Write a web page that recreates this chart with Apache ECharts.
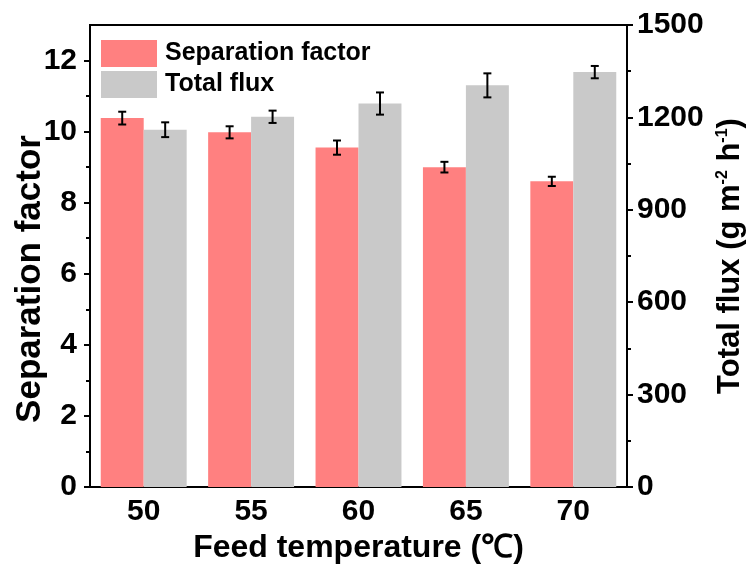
<!DOCTYPE html>
<html>
<head>
<meta charset="utf-8">
<script src="https://cdn.jsdelivr.net/npm/echarts@6/dist/echarts.min.js"></script>
<style>html,body{margin:0;padding:0;background:#fff;}#c{width:754px;height:567px;}</style>
</head>
<body>
<div id="c"></div>
<script>
const categories = ['50', '55', '60', '65', '70'];
const sepFactor = [10.38, 9.98, 9.55, 9.0, 8.6];
const sepErr = [0.18, 0.17, 0.2, 0.15, 0.13];
const totalFlux = [1160, 1202, 1245, 1304, 1347];
const fluxErr = [24, 20, 36, 39, 20];
const leftMajorTicks = [0, 2, 4, 6, 8, 10, 12];
const leftMinorTicks = [1, 3, 5, 7, 9, 11];

const FONT = "'Liberation Sans', Arial, sans-serif";
const RED = '#FF8080';
const GRAY = '#C9C9C9';

function errRender(offsetFrac) {
  return function (params, api) {
    const idx = api.value(0);
    const v = api.value(1);
    const e = api.value(2);
    const band = api.size([1, 0])[0];
    const c = api.coord([idx, v]);
    const x = c[0] + offsetFrac * band;
    const yTop = api.coord([idx, v + e])[1];
    const yBot = api.coord([idx, v - e])[1];
    const cap = 4;
    const st = { stroke: '#000', lineWidth: 2 };
    return {
      type: 'group',
      children: [
        { type: 'line', shape: { x1: x, y1: yTop, x2: x, y2: yBot }, style: st },
        { type: 'line', shape: { x1: x - cap, y1: yTop, x2: x + cap, y2: yTop }, style: st },
        { type: 'line', shape: { x1: x - cap, y1: yBot, x2: x + cap, y2: yBot }, style: st }
      ]
    };
  };
}

const chart = echarts.init(document.getElementById('c'));
chart.setOption({
  backgroundColor: '#fff',
  animation: false,
  textStyle: { fontFamily: FONT },
  grid: { left: 90, right: 127, top: 25, bottom: 80, show: true, borderColor: '#000', borderWidth: 2, containLabel: false, outerBoundsMode: 'none' },
  legend: {
    data: ['Separation factor', 'Total flux'],
    orient: 'vertical',
    left: 96, top: 35,
    itemWidth: 56, itemHeight: 27, itemGap: 4,
    icon: 'rect',
    textStyle: { fontSize: 25, fontWeight: 'bold', color: '#000', fontFamily: FONT, padding: [0, 0, 0, 3] }
  },
  xAxis: {
    type: 'category',
    data: categories,
    axisLine: { lineStyle: { color: '#000', width: 2 } },
    axisTick: { alignWithLabel: true, length: 6, lineStyle: { color: '#000', width: 2 } },
    axisLabel: { fontSize: 30, fontWeight: 'bold', color: '#000', margin: 10, fontFamily: FONT },
    name: 'Feed temperature (℃)',
    nameLocation: 'middle',
    nameGap: 24,
    nameTextStyle: { fontSize: 32, fontWeight: 'bold', color: '#000', fontFamily: FONT },
    splitLine: { show: false }
  },
  yAxis: [
    {
      type: 'value', position: 'left', min: 0, max: 13, interval: 1,
      axisLine: { show: true, lineStyle: { color: '#000', width: 2 } },
      axisTick: { show: true, length: 6, customValues: leftMajorTicks, lineStyle: { color: '#000', width: 2 } },
      axisLabel: { fontSize: 30, fontWeight: 'bold', color: '#000', margin: 13, fontFamily: FONT, customValues: leftMajorTicks },
      splitLine: { show: false },
      name: 'Separation factor',
      nameLocation: 'middle', nameRotate: 90, nameGap: 42, nameMoveOverlap: false,
      nameTextStyle: { fontSize: 35, fontWeight: 'bold', color: '#000', fontFamily: FONT, padding: [0, 46, 0, 0] }
    },
    {
      type: 'value', position: 'right', min: 0, max: 1500, interval: 300,
      axisLine: { show: true, lineStyle: { color: '#000', width: 2 } },
      axisTick: { show: true, length: 6, lineStyle: { color: '#000', width: 2 } },
      minorTick: { show: true, splitNumber: 2, length: 4, lineStyle: { color: '#000', width: 2 } },
      axisLabel: { fontSize: 30, fontWeight: 'bold', color: '#000', margin: 10, fontFamily: FONT, formatter: v => String(v) },
      splitLine: { show: false }, minorSplitLine: { show: false },
      name: 'Total flux (g m{sup|-2} h{sup|-1})',
      nameLocation: 'middle', nameRotate: 90, nameGap: 85,
      nameTextStyle: {
        fontSize: 31, fontWeight: 'bold', color: '#000', fontFamily: FONT,
        rich: { sup: { fontSize: 16, fontWeight: 'bold', color: '#000', fontFamily: FONT, verticalAlign: 'top', padding: [0, 0, 12, 0] } }
      }
    },
    {
      type: 'value', position: 'left', min: 0, max: 13, interval: 1,
      axisLine: { show: false },
      axisTick: { show: true, length: 4, customValues: leftMinorTicks, lineStyle: { color: '#000', width: 2 } },
      axisLabel: { show: false },
      splitLine: { show: false }
    }
  ],
  series: [
    {
      name: 'Separation factor', type: 'bar', yAxisIndex: 0, data: sepFactor,
      barGap: '0%', barCategoryGap: '20%', itemStyle: { color: RED }
    },
    {
      name: 'Total flux', type: 'bar', yAxisIndex: 1, data: totalFlux,
      barGap: '0%', barCategoryGap: '20%', itemStyle: { color: GRAY }
    },
    {
      name: 'sepErr', type: 'custom', yAxisIndex: 0, z: 10,
      renderItem: errRender(-0.2),
      data: sepFactor.map((v, i) => [i, v, sepErr[i]])
    },
    {
      name: 'fluxErr', type: 'custom', yAxisIndex: 1, z: 10,
      renderItem: errRender(0.2),
      data: totalFlux.map((v, i) => [i, v, fluxErr[i]])
    }
  ]
});
</script>
</body>
</html>
